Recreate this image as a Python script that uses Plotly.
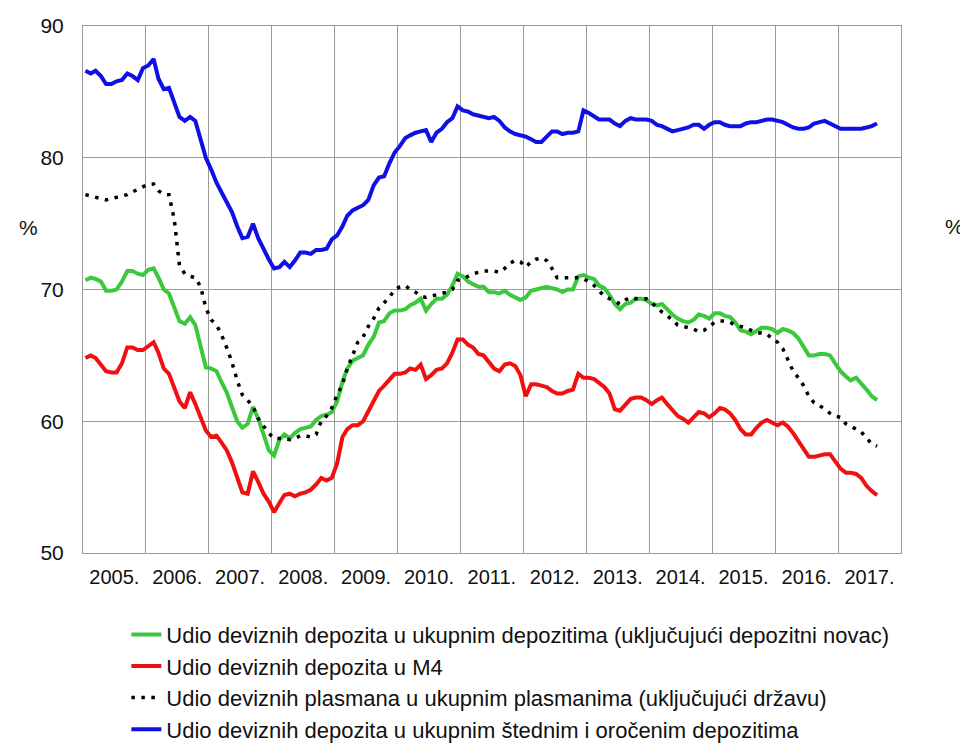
import pandas as pd
import plotly.graph_objects as go

# Monthly observations, Jan 2005 - Aug 2017
months = pd.date_range("2005-01-01", periods=152, freq="MS") + pd.Timedelta(days=14)

years = list(range(2005, 2018))
year_labels = [f"{y}." for y in years]
y_ticks = [50, 60, 70, 80, 90]

name_green = "Udio deviznih depozita u ukupnim depozitima (uključujući depozitni novac)"
name_red = "Udio deviznih depozita u M4"
name_dot = "Udio deviznih plasmana u ukupnim plasmanima (uključujući državu)"
name_blue = "Udio deviznih depozita u ukupnim štednim i oročenim depozitima"

green = [
    70.7, 70.9, 70.8, 70.6, 69.9, 69.9, 70.0, 70.6, 71.4, 71.4, 71.2, 71.1,
    71.5, 71.6, 70.9, 70.0, 69.7, 68.7, 67.6, 67.4, 67.9, 67.3, 65.6, 64.1,
    64.0, 63.8, 63.0, 62.2, 61.1, 60.0, 59.5, 59.8, 61.1, 60.2, 59.0, 57.8,
    57.4, 58.6, 59.0, 58.7, 59.1, 59.4, 59.5, 59.6, 60.1, 60.4, 60.5, 60.7,
    61.5, 63.0, 64.0, 64.6, 64.8, 65.0, 65.8, 66.4, 67.5, 67.6, 68.2, 68.4,
    68.4, 68.5, 68.8, 69.0, 69.3, 68.4, 68.9, 69.3, 69.3, 69.6, 70.3, 71.2,
    71.0, 70.6, 70.4, 70.2, 70.2, 69.8, 69.8, 69.7, 69.9, 69.6, 69.4, 69.2,
    69.4, 69.9, 70.0, 70.1, 70.2, 70.1, 70.0, 69.8, 70.0, 70.0, 71.0, 71.1,
    70.9, 70.8, 70.3, 70.1, 69.6, 68.9, 68.5, 68.9, 69.0, 69.3, 69.3, 69.2,
    68.9, 68.8, 68.9, 68.5, 68.1, 67.8, 67.6, 67.5, 67.7, 68.1, 68.0, 67.8,
    68.2, 68.2, 68.0, 67.9, 67.5, 66.9, 66.8, 66.6, 66.9, 67.1, 67.1, 67.0,
    66.7, 67.0, 66.9, 66.7, 66.3, 65.7, 65.0, 65.0, 65.1, 65.1, 65.0, 64.4,
    63.8, 63.4, 63.1, 63.3, 62.9, 62.4, 61.9, 61.6,
]

red = [
    64.8, 65.0, 64.8, 64.3, 63.8, 63.7, 63.7, 64.4, 65.6, 65.6, 65.4, 65.4,
    65.7, 66.0, 65.2, 64.0, 63.6, 62.6, 61.5, 61.0, 62.2, 61.3, 60.3, 59.3,
    58.8, 58.9, 58.4, 57.8, 56.9, 55.8, 54.6, 54.5, 56.2, 55.4, 54.5, 53.9,
    53.1, 53.8, 54.4, 54.5, 54.3, 54.5, 54.6, 54.8, 55.2, 55.7, 55.5, 55.7,
    56.8, 58.8, 59.4, 59.7, 59.7, 60.0, 60.8, 61.6, 62.3, 62.7, 63.2, 63.6,
    63.6, 63.7, 64.0, 63.9, 64.3, 63.2, 63.5, 63.9, 64.0, 64.4, 65.2, 66.2,
    66.2, 65.8, 65.6, 65.1, 65.0, 64.5, 64.0, 63.8, 64.3, 64.4, 64.2, 63.5,
    61.9, 62.8, 62.8, 62.7, 62.6, 62.3, 62.1, 62.1, 62.3, 62.4, 63.6, 63.3,
    63.3, 63.2, 62.9, 62.6, 62.1, 60.9, 60.8, 61.3, 61.7, 61.8, 61.8, 61.6,
    61.3, 61.6, 61.8, 61.3, 60.8, 60.4, 60.2, 59.9, 60.3, 60.7, 60.6, 60.3,
    60.6, 61.0, 60.9, 60.6, 60.1, 59.4, 59.0, 59.0, 59.5, 59.9, 60.1, 59.9,
    59.7, 59.9, 59.6, 59.1, 58.5, 57.8, 57.3, 57.3, 57.4, 57.5, 57.5, 56.9,
    56.4, 56.1, 56.1, 56.0, 55.7, 55.1, 54.7, 54.4,
]

dotted = [
    77.2, 77.1, 77.0, 76.9, 76.8, 76.9, 77.0, 77.1, 77.2, 77.4, 77.6, 77.8,
    78.0, 78.0, 77.5, 77.2, 77.2, 75.3, 71.8, 71.2, 71.0, 70.9, 70.2, 68.6,
    67.7, 67.3, 66.6, 65.6, 64.5, 63.1, 62.0, 61.6, 61.1, 60.2, 59.6, 59.1,
    58.7, 58.7, 58.7, 58.6, 58.7, 58.9, 58.9, 58.8, 59.0, 60.0, 60.4, 61.0,
    62.0, 62.8, 64.0, 65.0, 66.0, 66.4, 67.2, 67.8, 68.6, 69.0, 69.4, 70.0,
    70.2, 70.3, 70.0, 69.8, 69.5, 69.4, 69.5, 69.6, 69.7, 69.8, 70.0, 70.7,
    70.8, 71.0, 71.2, 71.3, 71.4, 71.4, 71.4, 71.3, 71.6, 72.0, 72.2, 72.1,
    71.7, 72.1, 72.3, 72.4, 72.2, 71.6, 70.9, 70.9, 70.9, 70.9, 70.9, 70.8,
    70.6, 70.3, 69.9, 69.5, 69.3, 69.1, 68.9, 69.2, 69.4, 69.3, 69.3, 69.3,
    69.0, 68.6, 68.3, 68.0, 67.7, 67.3, 67.2, 67.1, 67.0, 66.8, 66.9, 67.2,
    67.5, 67.6, 67.6, 67.5, 67.3, 67.2, 67.1, 66.9, 66.7, 66.7, 66.6, 66.3,
    66.0, 65.5, 64.6, 63.8, 63.3, 62.7, 61.9, 61.4, 61.2, 60.9, 60.6, 60.4,
    60.3, 59.8, 59.6, 59.4, 59.2, 58.7, 58.3, 58.1,
]

blue = [
    86.6, 86.4, 86.6, 86.2, 85.6, 85.6, 85.8, 85.9, 86.4, 86.2, 85.9, 86.8,
    87.0, 87.5, 86.0, 85.2, 85.3, 84.2, 83.1, 82.8, 83.1, 82.8, 81.3, 80.0,
    79.1, 78.1, 77.4, 76.6, 75.9, 74.8, 73.9, 74.0, 75.0, 73.9, 73.0, 72.3,
    71.6, 71.7, 72.1, 71.7, 72.2, 72.8, 72.8, 72.7, 73.0, 73.0, 73.1, 73.8,
    74.1, 74.8, 75.6, 76.0, 76.2, 76.4, 76.8, 77.9, 78.5, 78.6, 79.6, 80.4,
    80.9, 81.5, 81.7, 81.9, 82.0, 82.1, 81.2, 81.9, 82.2, 82.7, 83.0, 83.9,
    83.6, 83.5, 83.3, 83.2, 83.1, 83.0, 83.1, 82.8, 82.3, 82.0, 81.8, 81.7,
    81.6, 81.4, 81.2, 81.2, 81.6, 82.0, 82.0, 81.8, 81.9, 81.9, 82.0, 83.6,
    83.4, 83.1, 82.9, 82.9, 82.9, 82.6, 82.4, 82.8, 83.0, 82.9, 82.9, 82.9,
    82.8, 82.5, 82.4, 82.2, 82.0, 82.1, 82.2, 82.3, 82.5, 82.5, 82.2, 82.5,
    82.7, 82.7, 82.5, 82.4, 82.4, 82.4, 82.6, 82.7, 82.7, 82.8, 82.9, 82.9,
    82.8, 82.7, 82.5, 82.3, 82.2, 82.2, 82.3, 82.6, 82.7, 82.8, 82.6, 82.4,
    82.2, 82.2, 82.2, 82.2, 82.2, 82.3, 82.4, 82.6,
]

FONT = "Liberation Sans, Arial, sans-serif"
GRID = "#9a9a9a"
TXT = "#111111"

fig = go.Figure()
fig.add_trace(go.Scatter(x=months, y=green, name=name_green, mode="lines", legendgroup="g1",
                         line=dict(color="#3cc83c", width=4)))
fig.add_trace(go.Scatter(x=months, y=red, name=name_red, mode="lines", legendgroup="g2",
                         line=dict(color="#f01010", width=4)))
fig.add_trace(go.Scatter(x=months, y=dotted, name=name_dot, mode="lines", legendgroup="g3",
                         line=dict(color="#000000", width=3.5, dash="3.5px,6.5px")))
fig.add_trace(go.Scatter(x=months, y=blue, name=name_blue, mode="lines", legendgroup="g4",
                         line=dict(color="#1010e6", width=4)))

tick_dates = [f"{y}-07-02" for y in years]

fig.update_layout(
    width=968, height=755,
    margin=dict(l=75, r=75, t=18, b=210, autoexpand=False),
    paper_bgcolor="white", plot_bgcolor="white",
    font=dict(family=FONT, size=21, color=TXT),
    showlegend=True,
    legend=dict(x=0.053, xanchor="left", y=-0.115, yanchor="top",
                font=dict(family=FONT, size=22, color=TXT),
                bgcolor="rgba(0,0,0,0)", tracegroupgap=0),
    xaxis=dict(
        type="date", range=["2005-01-01", "2018-01-01"],
        tickmode="array", tickvals=tick_dates, ticktext=year_labels,
        tickangle=0, automargin=False,
        showgrid=False, ticks="", ticklabelstandoff=6,
        tickfont=dict(family=FONT, size=20, color=TXT),
        showline=True, mirror=True, linecolor=GRID, linewidth=1,
        minor=dict(dtick="M12", tick0="2005-01-01", showgrid=True,
                   gridcolor=GRID, gridwidth=1, ticks=""),
        zeroline=False,
    ),
    yaxis=dict(
        range=[50, 90], tickmode="array", tickvals=y_ticks, automargin=False,
        showgrid=True, gridcolor=GRID, gridwidth=1, ticks="",
        ticklabelstandoff=14, tickfont=dict(family=FONT, size=21, color=TXT),
        showline=True, mirror=True, linecolor=GRID, linewidth=1, zeroline=False,
    ),
    yaxis2=dict(
        range=[50, 90], tickmode="array", tickvals=y_ticks, automargin=False,
        overlaying="y", side="right", anchor="x",
        showgrid=False, ticks="", ticklabelstandoff=18,
        tickfont=dict(family=FONT, size=21, color=TXT), zeroline=False, showline=False,
    ),
    annotations=[
        dict(text="%", xref="paper", yref="y", x=-0.067, y=74.7, showarrow=False,
             xanchor="center", yanchor="middle",
             font=dict(family=FONT, size=21, color=TXT)),
        dict(text="%", xref="paper", yref="y", x=1.066, y=74.8, showarrow=False,
             xanchor="center", yanchor="middle",
             font=dict(family=FONT, size=21, color=TXT)),
    ],
)

fig.write_html("out.html")
